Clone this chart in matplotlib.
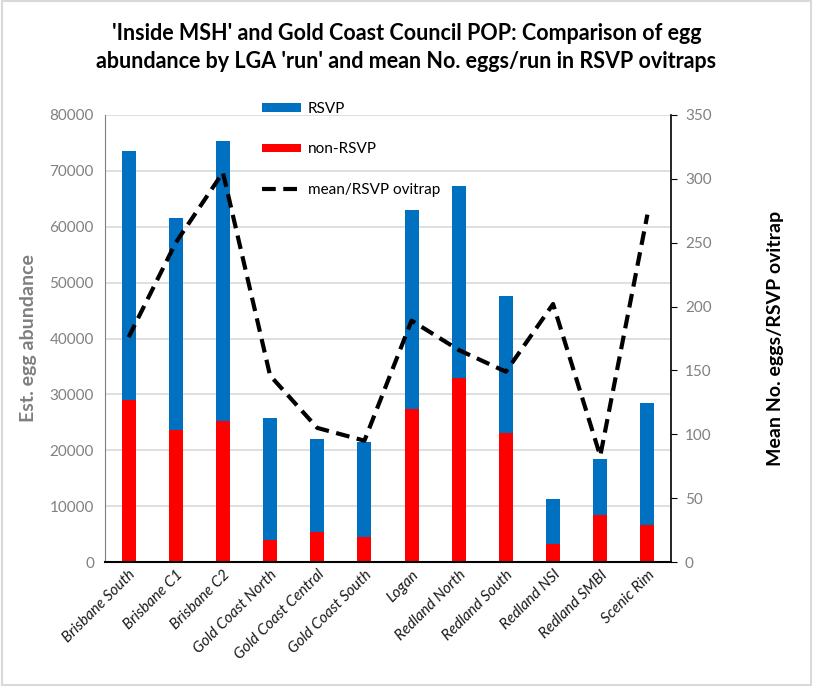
import matplotlib
matplotlib.use("Agg")
import matplotlib.pyplot as plt
import numpy as np
from matplotlib.patches import Rectangle

categories = ["Brisbane South", "Brisbane C1", "Brisbane C2", "Gold Coast North",
              "Gold Coast Central", "Gold Coast South", "Logan", "Redland North",
              "Redland South", "Redland NSI", "Redland SMBI", "Scenic Rim"]
total = [73500, 61650, 75300, 25700, 22100, 21400, 63000, 67300, 47600, 11200, 18500, 28500]
non_rsvp = [28950, 23600, 25200, 3900, 5400, 4400, 27300, 32900, 23000, 3300, 8400, 6700]
rsvp = [t - n for t, n in zip(total, non_rsvp)]
mean_per_trap = [176, 250, 305, 146, 105, 95, 189, 166, 149, 202, 83, 272]

plt.rcParams['font.family'] = ['Lato', 'DejaVu Sans']

fig = plt.figure(figsize=(8.13, 6.86), dpi=100)
fig.patches.append(Rectangle((0.002, 0.002), 0.996, 0.996, transform=fig.transFigure,
                             fill=False, edgecolor='#d9d9d9', linewidth=1.5))
W, H = 813, 686
ax = fig.add_axes([105 / W, 1 - 562 / H, (671 - 105) / W, (562 - 115) / H])
x = np.arange(len(categories))
bw = 0.3
ax.bar(x, non_rsvp, bw, color='#ff0000', label='non-RSVP', zorder=2)
ax.bar(x, rsvp, bw, bottom=non_rsvp, color='#0070c0', label='RSVP', zorder=2)
ax.set_ylim(0, 80000)
ax.set_xlim(-0.5, len(categories) - 0.5)
ax.set_yticks(np.arange(0, 80001, 10000))
ax.yaxis.grid(True, color='#d9d9d9', linewidth=1.2, zorder=0)
ax.set_axisbelow(True)
ax.tick_params(axis='y', length=0, labelsize=11, labelcolor='#808080', pad=8)
ax.tick_params(axis='x', length=0, pad=4)
ax.set_xticks(x)
ax.set_xticklabels(categories, rotation=45, ha='right', rotation_mode='anchor',
                   fontsize=11, fontstyle='italic', color='#1a1a1a')
ax.spines['top'].set_visible(False)
ax.spines['left'].set_color('#808080')
ax.spines['bottom'].set_color('#000000')
ax.spines['bottom'].set_linewidth(1.5)
ax.spines['right'].set_visible(False)
ax.set_ylabel('Est. egg abundance', fontsize=14, fontweight='bold', color='#7f7f7f', labelpad=9)

ax2 = ax.twinx()
ax2.plot(x, mean_per_trap, color='black', linewidth=3, linestyle=(0, (3.3, 1.8)),
         label='mean/RSVP ovitrap', zorder=3)
ax2.set_ylim(0, 350)
ax2.set_yticks(np.arange(0, 351, 50))
ax2.tick_params(axis='y', direction='out', length=4, color='black', labelsize=11,
                labelcolor='#808080', pad=6)
for s in ['top', 'left', 'bottom']:
    ax2.spines[s].set_visible(False)
ax2.spines['right'].set_color('black')
ax2.spines['right'].set_linewidth(1.2)
ax2.set_ylabel('Mean No. eggs/RSVP ovitrap', fontsize=14, fontweight='bold', color='black',
               labelpad=40)

h1, l1 = ax.get_legend_handles_labels()
h2, l2 = ax2.get_legend_handles_labels()
handles = [h1[1], h1[0], h2[0]]
labels = [l1[1], l1[0], l2[0]]
leg = fig.legend(handles, labels, loc='upper left', bbox_to_anchor=(248 / W, 1 - 88 / H),
                 frameon=False, fontsize=11, labelspacing=1.75, handlelength=2.6,
                 handleheight=0.5, handletextpad=0.4)

fig.text(0.5, 1 - 33 / H, "'Inside MSH' and Gold Coast Council POP: Comparison of egg",
         ha='center', va='center', fontsize=15.5, fontweight='bold')
fig.text(0.5, 1 - 61 / H, "abundance by LGA 'run' and mean No. eggs/run in RSVP ovitraps",
         ha='center', va='center', fontsize=15.5, fontweight='bold')

fig.savefig('out.png', dpi=100)
